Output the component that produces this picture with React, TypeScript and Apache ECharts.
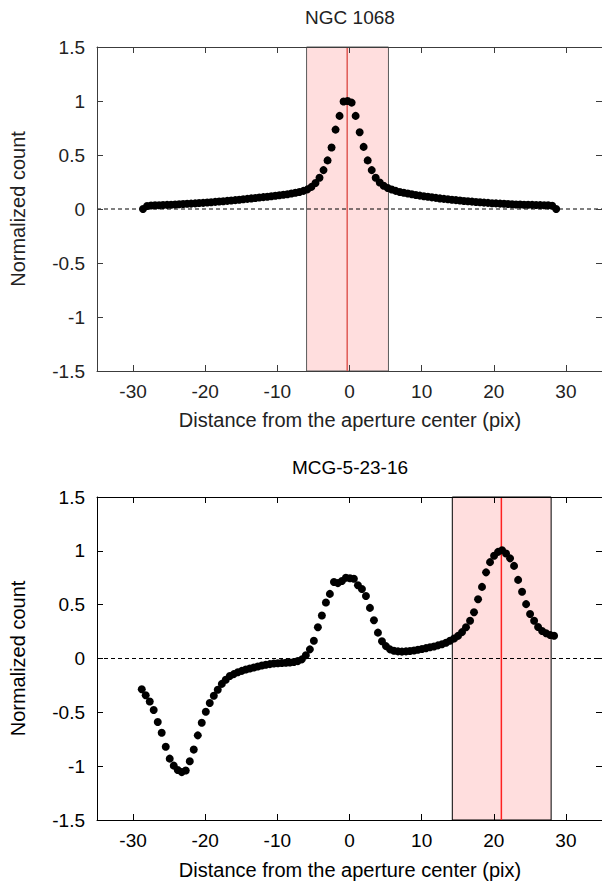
import React, { useEffect, useRef } from "react";
import * as echarts from "echarts";

const xTicks = [-30, -20, -10, 0, 10, 20, 30];
const titles = ["NGC 1068", "MCG-5-23-16"];
const xName = "Distance from the aperture center (pix)";
const yName = "Normalized count";

const topX = [
  -28.62, -28.06, -27.51, -26.95, -26.4, -25.84, -25.28, -24.73, -24.17, -23.62,
  -23.06, -22.5, -21.95, -21.39, -20.84, -20.28, -19.72, -19.17, -18.61, -18.06,
  -17.5, -16.94, -16.39, -15.83, -15.28, -14.72, -14.16, -13.61, -13.05, -12.5,
  -11.94, -11.38, -10.83, -10.27, -9.72, -9.16, -8.6, -8.05, -7.49, -6.94,
  -6.38, -5.82, -5.27, -4.71, -4.16, -3.6, -3.04, -2.49, -1.93, -1.38,
  -0.82, -0.26, 0.3, 0.85, 1.41, 1.96, 2.52, 3.08, 3.63, 4.19,
  4.74, 5.3, 5.86, 6.41, 6.97, 7.52, 8.08, 8.64, 9.19, 9.75,
  10.3, 10.86, 11.42, 11.97, 12.53, 13.08, 13.64, 14.2, 14.75, 15.31,
  15.86, 16.42, 16.98, 17.53, 18.09, 18.64, 19.2, 19.76, 20.31, 20.87,
  21.42, 21.98, 22.54, 23.09, 23.65, 24.2, 24.76, 25.32, 25.87, 26.43,
  26.98, 27.54, 28.1, 28.65,
];
const topY = [
  0.0, 0.028, 0.032, 0.034, 0.035, 0.037, 0.038, 0.04, 0.042, 0.044,
  0.046, 0.048, 0.05, 0.052, 0.055, 0.057, 0.06, 0.063, 0.066, 0.069,
  0.072, 0.075, 0.078, 0.082, 0.086, 0.09, 0.094, 0.098, 0.102, 0.106,
  0.11, 0.114, 0.118, 0.122, 0.127, 0.132, 0.137, 0.143, 0.15, 0.158,
  0.168, 0.182, 0.205, 0.24, 0.29, 0.36, 0.45, 0.57, 0.735, 0.862,
  0.995, 1.0, 0.985, 0.862, 0.71, 0.575, 0.45, 0.36, 0.29, 0.245,
  0.215, 0.195, 0.18, 0.168, 0.158, 0.15, 0.143, 0.136, 0.13, 0.124,
  0.118, 0.113, 0.108, 0.103, 0.098, 0.094, 0.09, 0.086, 0.082, 0.078,
  0.074, 0.071, 0.068, 0.065, 0.062, 0.059, 0.057, 0.054, 0.052, 0.05,
  0.048, 0.046, 0.044, 0.042, 0.041, 0.04, 0.039, 0.038, 0.037, 0.036,
  0.035, 0.034, 0.03, 0.0,
];

const botX = [
  -28.8, -28.25, -27.69, -27.14, -26.58, -26.03, -25.47, -24.92, -24.36, -23.81,
  -23.25, -22.7, -22.14, -21.59, -21.03, -20.48, -19.92, -19.37, -18.81, -18.26,
  -17.7, -17.15, -16.59, -16.04, -15.48, -14.93, -14.37, -13.82, -13.26, -12.71,
  -12.15, -11.6, -11.04, -10.49, -9.93, -9.38, -8.82, -8.27, -7.71, -7.16,
  -6.6, -6.05, -5.49, -4.94, -4.38, -3.83, -3.27, -2.72, -2.16, -1.61,
  -1.05, -0.5, 0.06, 0.61, 1.17, 1.72, 2.28, 2.83, 3.39, 3.94,
  4.5, 5.05, 5.61, 6.16, 6.72, 7.27, 7.83, 8.38, 8.94, 9.49,
  10.05, 10.6, 11.16, 11.71, 12.27, 12.82, 13.38, 13.93, 14.49, 15.04,
  15.6, 16.15, 16.71, 17.26, 17.82, 18.37, 18.93, 19.48, 20.04, 20.59,
  21.15, 21.7, 22.26, 22.81, 23.37, 23.92, 24.48, 25.03, 25.59, 26.14,
  26.7, 27.25, 27.81, 28.36,
];
const botY = [
  -0.286, -0.342, -0.4, -0.478, -0.59, -0.69, -0.82, -0.93, -0.995, -1.035,
  -1.055, -1.04, -0.955, -0.846, -0.714, -0.596, -0.494, -0.413, -0.346, -0.29,
  -0.236, -0.197, -0.163, -0.145, -0.128, -0.115, -0.102, -0.093, -0.084, -0.074,
  -0.065, -0.058, -0.052, -0.047, -0.044, -0.042, -0.04, -0.037, -0.033, -0.024,
  -0.008, 0.03, 0.085, 0.165, 0.29, 0.4, 0.52, 0.6, 0.71, 0.7,
  0.72, 0.75, 0.745, 0.74, 0.68, 0.645, 0.58, 0.47, 0.355, 0.24,
  0.16, 0.115, 0.085, 0.072, 0.066, 0.064, 0.066, 0.07, 0.075, 0.082,
  0.089, 0.096, 0.104, 0.112, 0.122, 0.133, 0.147, 0.165, 0.185, 0.21,
  0.245, 0.29, 0.35, 0.43, 0.55, 0.665, 0.8, 0.895, 0.955, 0.99,
  1.005, 0.975, 0.93, 0.86, 0.73, 0.62, 0.505, 0.413, 0.35, 0.293,
  0.255, 0.234, 0.218, 0.212,
];

const topBand = [-5.95, 5.4];
const topCenter = -0.32;
const botBand = [14.25, 27.95];
const botCenter = 21.05;

export default function App() {
  const ref = useRef<HTMLDivElement>(null);
  useEffect(() => {
    const chart = echarts.init(ref.current!, null, { renderer: "svg" });
    const font = "'Liberation Sans', Arial, Helvetica, sans-serif";
    const panels = [
      {
        top: 47, height: 324, xs: topX, ys: topY, band: topBand, center: topCenter,
        axisColor: "#3c3c3c", textColor: "#222", edgeColor: "#5a5a5a", redColor: "#e05a55",
        titleY: 17, xNameY: 420,
      },
      {
        top: 497, height: 323, xs: botX, ys: botY, band: botBand, center: botCenter,
        axisColor: "#000", textColor: "#000", edgeColor: "#000", redColor: "#ff2020",
        titleY: 467, xNameY: 870,
      },
    ];
    const grid: any[] = [];
    const xAxis: any[] = [];
    const yAxis: any[] = [];
    const series: any[] = [];
    const graphic: any[] = [];
    panels.forEach((p, i) => {
      grid.push({ left: 97, top: p.top, width: 506, height: p.height });
      const lineStyle = { color: p.axisColor, width: 1 };
      xAxis.push({
        type: "value", gridIndex: i, position: "bottom", min: -35, max: 35, z: 5,
        axisLine: { show: true, onZero: false, lineStyle },
        axisTick: { show: true, inside: true, length: 6, lineStyle, customValues: xTicks },
        axisLabel: { show: true, customValues: xTicks, margin: 11, fontSize: 19, fontFamily: font, color: p.textColor },
        splitLine: { show: false },
      });
      xAxis.push({
        type: "value", gridIndex: i, position: "top", min: -35, max: 35, z: 5,
        axisLine: { show: true, onZero: false, lineStyle },
        axisTick: { show: true, inside: true, length: 6, lineStyle, customValues: xTicks },
        axisLabel: { show: false },
        splitLine: { show: false },
      });
      yAxis.push({
        type: "value", gridIndex: i, position: "left", min: -1.5, max: 1.5, interval: 0.5, z: 5,
        axisLine: { show: true, onZero: false, lineStyle },
        axisTick: { show: true, inside: true, length: 6, lineStyle },
        axisLabel: { show: true, margin: 12, fontSize: 19, fontFamily: font, color: p.textColor },
        splitLine: { show: false },
      });
      yAxis.push({
        type: "value", gridIndex: i, position: "right", min: -1.5, max: 1.5, interval: 0.5, z: 5,
        axisLine: { show: true, onZero: false, lineStyle },
        axisTick: { show: true, inside: true, length: 6, lineStyle },
        axisLabel: { show: false },
        splitLine: { show: false },
      });
      const xi = i * 2;
      const yi = i * 2;
      series.push({
        type: "line", xAxisIndex: xi, yAxisIndex: yi, z: 2, silent: true,
        data: [[-35, 0], [35, 0]], symbol: "none",
        lineStyle: { color: "#000", width: 1, type: [4, 3] },
        markArea: {
          silent: true,
          itemStyle: { color: "#ffdede", borderColor: p.edgeColor, borderWidth: 1 },
          data: [[{ xAxis: p.band[0] }, { xAxis: p.band[1] }]],
        },
      });
      series.push({
        type: "line", xAxisIndex: xi, yAxisIndex: yi, z: 3, silent: true,
        data: [[p.center, -1.5], [p.center, 1.5]], symbol: "none",
        lineStyle: { color: p.redColor, width: 1.5 },
      });
      series.push({
        type: "scatter", xAxisIndex: xi, yAxisIndex: yi, z: 4, silent: true,
        symbol: "circle", symbolSize: 8,
        itemStyle: { color: "#000", opacity: 1 },
        data: p.xs.map((x, k) => [x, p.ys[k]]),
      });
      graphic.push({
        type: "text", x: 350, y: p.titleY,
        style: { text: titles[i], fontSize: 19, fontFamily: font, fill: p.textColor, textAlign: "center", textVerticalAlign: "middle" },
      });
      graphic.push({
        type: "text", x: 350, y: p.xNameY,
        style: { text: xName, fontSize: 20, fontFamily: font, fill: p.textColor, textAlign: "center", textVerticalAlign: "middle" },
      });
      graphic.push({
        type: "text", x: 18, y: p.top + p.height / 2, rotation: Math.PI / 2,
        style: { text: yName, fontSize: 20, fontFamily: font, fill: p.textColor, textAlign: "center", textVerticalAlign: "middle" },
      });
    });
    chart.setOption({ animation: false, grid, xAxis, yAxis, series, graphic });
    return () => chart.dispose();
  }, []);
  return <div ref={ref} style={{ position: "absolute", left: 0, top: 0, width: 602, height: 884 }} />;
}
